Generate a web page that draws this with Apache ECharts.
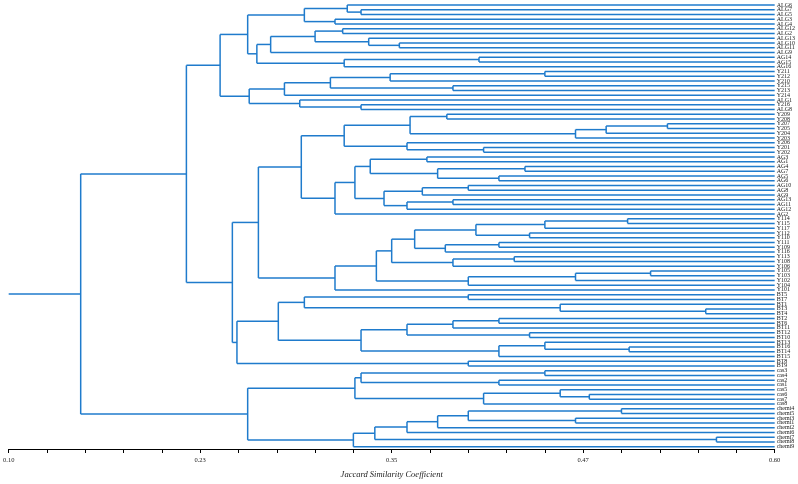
<!DOCTYPE html>
<html style="height: 100%">
<head>
	<meta charset="utf-8">
</head>
<body style="height: 100%; margin: 0; background: #fff">
<div id="container" style="height: 100%"></div>
<script type="text/javascript" src="https://cdn.jsdelivr.net/npm/echarts@6/dist/echarts.min.js"></script>
<script type="text/javascript">
    // leaf order, top to bottom
    var leafNames = [
        'ALG6', 'ALG7', 'ALG5', 'ALG3', 'ALG4', 'ALG12', 'ALG2', 'ALG13', 'ALG10', 'ALG11', 'ALG9',
        'AG14', 'AG15', 'AG16',
        'Y211', 'Y212', 'Y210', 'Y215', 'Y213', 'Y214', 'ALG1', 'Y216', 'ALG8',
        'Y209', 'Y208', 'Y207', 'Y205', 'Y204', 'Y203', 'Y206', 'Y201', 'Y202',
        'AG3', 'AG1', 'AG4', 'AG7', 'AG5', 'AG6', 'AG10', 'AG8', 'AG9', 'AG13', 'AG11', 'AG12', 'AG2',
        'Y114', 'Y115', 'Y117', 'Y112', 'Y110', 'Y111', 'Y109', 'Y116', 'Y113', 'Y108', 'Y106', 'Y105', 'Y103', 'Y102', 'Y104', 'Y101',
        'BT5', 'BT7', 'BT1', 'BT3', 'BT4', 'BT2', 'BT6', 'BT11', 'BT12', 'BT10', 'BT13', 'BT16', 'BT14', 'BT15', 'BT8', 'BT9',
        'cas3', 'cas4', 'cas2', 'cas1', 'cas5', 'cas6', 'cas7', 'cas8',
        'chemi4', 'chemi5', 'chemi3', 'chemi1', 'chemi2', 'chemi6', 'chemi7', 'chemi8', 'chemi9'
    ];

    // clusters: [first leaf, last leaf, similarity where they join]
    var groupALG = [
        [1, 2, 0.330], [0, 2, 0.321], [3, 4, 0.313], [0, 4, 0.293],
        [8, 9, 0.355], [7, 9, 0.335], [5, 6, 0.318], [5, 9, 0.300], [5, 10, 0.271],
        [11, 12, 0.407], [11, 13, 0.319], [5, 13, 0.262], [0, 13, 0.256]
    ];
    var groupY21 = [
        [14, 15, 0.450], [14, 16, 0.349], [17, 18, 0.390], [14, 18, 0.310], [14, 19, 0.280],
        [21, 22, 0.330], [20, 22, 0.290], [14, 22, 0.257]
    ];
    var groupY20 = [
        [23, 24, 0.386], [25, 26, 0.530], [25, 27, 0.490], [25, 28, 0.470], [23, 28, 0.362],
        [30, 31, 0.410], [29, 31, 0.360], [23, 31, 0.319]
    ];
    var groupAG = [
        [32, 33, 0.373], [34, 35, 0.437], [36, 37, 0.420], [34, 37, 0.380], [32, 37, 0.336],
        [38, 39, 0.400], [38, 40, 0.370], [41, 42, 0.390], [41, 43, 0.360], [38, 43, 0.345],
        [32, 43, 0.326], [32, 44, 0.313]
    ];
    var groupY1 = [
        [45, 46, 0.504], [45, 47, 0.450], [48, 49, 0.440], [45, 49, 0.405], [50, 51, 0.420],
        [50, 52, 0.385], [45, 52, 0.365], [53, 54, 0.430], [53, 55, 0.390], [45, 55, 0.350],
        [56, 57, 0.519], [56, 58, 0.470], [56, 59, 0.400], [45, 59, 0.340], [45, 60, 0.313]
    ];
    var groupBT = [
        [61, 62, 0.400], [64, 65, 0.555], [63, 65, 0.460], [61, 65, 0.293],
        [66, 67, 0.420], [66, 68, 0.390], [69, 70, 0.440], [66, 70, 0.360],
        [72, 73, 0.505], [71, 73, 0.450], [71, 74, 0.420], [66, 74, 0.330],
        [61, 74, 0.276], [75, 76, 0.400], [61, 76, 0.249]
    ];
    var groupCas = [
        [77, 78, 0.450], [79, 80, 0.420], [77, 80, 0.330], [82, 83, 0.479], [81, 83, 0.460],
        [81, 84, 0.410], [77, 84, 0.326]
    ];
    var groupChemi = [
        [85, 86, 0.500], [87, 88, 0.470], [85, 88, 0.400], [85, 89, 0.380], [85, 90, 0.360],
        [91, 92, 0.562], [85, 92, 0.339], [85, 93, 0.325]
    ];
    var upperJoins = [
        [0, 22, 0.238], [23, 44, 0.291], [23, 60, 0.263], [23, 76, 0.246], [0, 76, 0.216],
        [77, 93, 0.256], [0, 93, 0.147]
    ];

    var tickLabels = ['0.10', '0.23', '0.35', '0.47', '0.60'];
    var simMin = 0.10, simMax = 0.60, simStep = 0.125;

    var clusters = [].concat(groupALG, groupY21, groupY20, groupAG, groupY1, groupBT, groupCas, groupChemi, upperJoins);

    // work out children, y position and the segments for every cluster
    clusters.sort(function (a, b) { return (a[1] - a[0]) - (b[1] - b[0]); });
    var nodes = [];
    var segments = [];
    clusters.forEach(function (c) {
        var kids = [];
        var p = c[0];
        while (p <= c[1]) {
            var best = null;
            nodes.forEach(function (n) {
                if (n.first === p && n.last <= c[1] && (!best || n.last > best.last)) best = n;
            });
            if (best) {
                kids.push(best);
                p = best.last + 1;
            } else {
                kids.push({ first: p, last: p, h: simMax, y: p });
                p++;
            }
        }
        var node = { first: c[0], last: c[1], h: c[2], y: (kids[0].y + kids[kids.length - 1].y) / 2 };
        kids.forEach(function (k) {
            segments.push([k.h, k.y, c[2], k.y]);
        });
        segments.push([c[2], kids[0].y, c[2], kids[kids.length - 1].y]);
        nodes.push(node);
    });
    var root = nodes[nodes.length - 1];
    segments.push([simMin, root.y, root.h, root.y]);

    var dom = document.getElementById("container");
    var myChart = echarts.init(dom);

    var option = {
        backgroundColor: '#ffffff',
        animation: false,
        grid: {
            left: 8,
            right: 22,
            top: 2.6,
            height: 453
        },
        xAxis: {
            type: 'value',
            min: simMin,
            max: simMax,
            interval: simStep,
            name: 'Jaccard Similarity Coefficient',
            nameLocation: 'middle',
            nameGap: 21,
            nameTextStyle: {
                fontFamily: 'Liberation Serif',
                fontStyle: 'italic',
                fontSize: 8.5,
                color: '#222'
            },
            axisLine: { onZero: false, lineStyle: { color: '#000', width: 1 } },
            axisTick: { length: 4, lineStyle: { color: '#000' } },
            minorTick: { show: true, splitNumber: 5, length: 4, lineStyle: { color: '#000' } },
            splitLine: { show: false },
            axisLabel: {
                margin: 8,
                fontFamily: 'Liberation Serif',
                fontSize: 6.5,
                color: '#222',
                formatter: function (v) {
                    return tickLabels[Math.round((v - simMin) / simStep)];
                }
            }
        },
        yAxis: [{
            type: 'value',
            min: -0.5,
            max: leafNames.length - 0.5,
            inverse: true,
            show: false
        }, {
            type: 'category',
            data: leafNames,
            inverse: true,
            position: 'right',
            axisLine: { show: false },
            axisTick: { show: false },
            splitLine: { show: false },
            axisLabel: {
                interval: 0,
                margin: 2,
                fontFamily: 'Liberation Serif',
                fontSize: 6,
                color: '#222'
            }
        }],
        series: [{
            type: 'custom',
            yAxisIndex: 0,
            silent: true,
            data: segments,
            renderItem: function (params, api) {
                var p1 = api.coord([api.value(0), api.value(1)]);
                var p2 = api.coord([api.value(2), api.value(3)]);
                return {
                    type: 'line',
                    shape: { x1: p1[0], y1: p1[1], x2: p2[0], y2: p2[1] },
                    style: { stroke: '#1f7bcc', lineWidth: 1.5 }
                };
            }
        }]
    };

    if (option && typeof option === "object") {
        myChart.setOption(option, true);
    }
    window.addEventListener('resize', function () {
        myChart.resize();
    });
</script>
</body>
</html>
